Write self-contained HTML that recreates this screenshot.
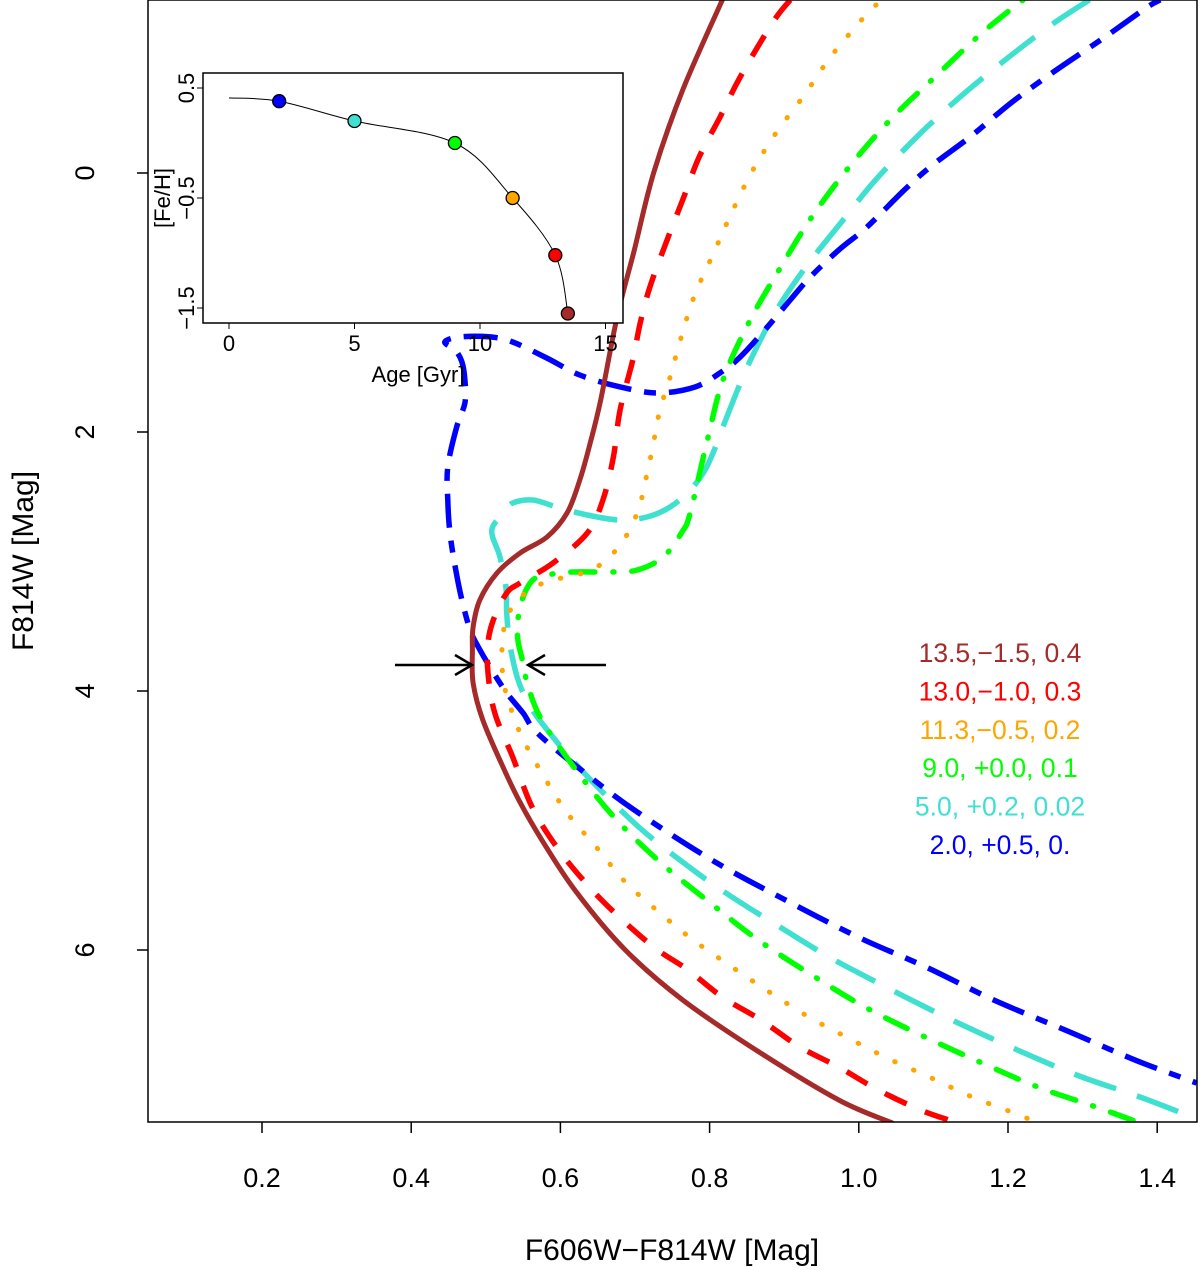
<!DOCTYPE html>
<html><head><meta charset="utf-8"><style>
html,body{margin:0;padding:0;background:#fff}
svg{display:block;font-family:"Liberation Sans",Arial,sans-serif}
</style></head><body>
<svg id="chart" width="1200" height="1270" viewBox="0 0 1200 1270">
<defs><clipPath id="plotclip"><rect x="148" y="0" width="1049" height="1122"/></clipPath></defs>
<g id="curves" clip-path="url(#plotclip)"></g>
<g id="axes"></g>
<g id="inset"></g>
</svg>
<script>
// Main plot data (colour F606W-F814W, magnitude F814W)
const xTicks = [0.2,0.4,0.6,0.8,1.0,1.2,1.4];
const xTickLabels = ["0.2","0.4","0.6","0.8","1.0","1.2","1.4"];
const yTicks = [0,2,4,6];
const yTickLabels = ["0","2","4","6"];

const brownC = [0.817,0.764,0.725,0.699,0.676,0.654,0.640,0.626,0.609,0.582,0.546,0.515,0.492,0.483,0.482,0.483,0.496,0.523,0.545,0.575,0.621,0.687,0.764,0.862,0.973,1.045];
const brownM = [-1.336,-0.641,0,0.595,1.112,1.753,2.085,2.371,2.625,2.811,2.934,3.089,3.297,3.506,3.683,3.938,4.224,4.587,4.85,5.15,5.55,6.0,6.386,6.772,7.158,7.336];

const redC = [0.908,0.885,0.841,0.814,0.786,0.764,0.743,0.720,0.707,0.697,0.680,0.671,0.657,0.636,0.590,0.546,0.528,0.510,0.503,0.503,0.512,0.536,0.562,0.595,0.634,0.673,0.725,0.771,0.817,0.869,0.921,0.973,1.026,1.083,1.129];
const redM = [-1.336,-1.166,-0.741,-0.432,-0.124,0.208,0.517,0.880,1.158,1.444,1.830,2.193,2.525,2.780,3.012,3.166,3.243,3.452,3.629,3.861,4.170,4.510,4.896,5.205,5.483,5.714,5.977,6.154,6.363,6.541,6.749,6.904,7.081,7.236,7.328];

const orangeC = [1.023,1.000,0.961,0.927,0.890,0.858,0.830,0.806,0.780,0.762,0.746,0.736,0.729,0.724,0.717,0.711,0.703,0.689,0.671,0.649,0.622,0.590,0.563,0.539,0.526,0.522,0.522,0.526,0.546,0.575,0.608,0.648,0.687,0.732,0.778,0.830,0.882,0.933,0.986,1.038,1.097,1.152,1.208,1.238];
const orangeM = [-1.297,-1.158,-0.888,-0.602,-0.317,-0.023,0.301,0.610,0.942,1.266,1.598,1.776,1.946,2.116,2.293,2.463,2.625,2.795,2.934,3.042,3.104,3.143,3.205,3.321,3.475,3.645,3.822,3.992,4.324,4.633,4.934,5.205,5.475,5.707,5.923,6.131,6.332,6.517,6.680,6.834,6.988,7.135,7.259,7.328];

const greenC = [1.220,1.165,1.102,1.042,0.987,0.937,0.893,0.853,0.818,0.797,0.774,0.763,0.738,0.703,0.666,0.617,0.582,0.563,0.550,0.543,0.543,0.549,0.557,0.575,0.621,0.673,0.735,0.801,0.865,0.937,1.008,1.083,1.162,1.240,1.318,1.370];
const greenM = [-1.336,-1.081,-0.741,-0.409,-0.046,0.340,0.749,1.151,1.598,2.062,2.625,2.772,2.965,3.066,3.081,3.081,3.104,3.143,3.274,3.452,3.606,3.761,3.969,4.224,4.610,4.981,5.328,5.637,5.923,6.193,6.440,6.656,6.865,7.058,7.212,7.321];

const cyanC = [1.309,1.254,1.171,1.097,1.026,0.979,0.929,0.890,0.853,0.823,0.810,0.794,0.774,0.747,0.716,0.680,0.636,0.595,0.563,0.536,0.526,0.508,0.519,0.527,0.528,0.532,0.542,0.555,0.575,0.628,0.705,0.778,0.830,0.894,0.960,1.026,1.097,1.162,1.234,1.299,1.377,1.453];
const cyanM = [-1.336,-1.127,-0.757,-0.386,0.031,0.363,0.726,1.058,1.467,1.884,2.085,2.293,2.448,2.579,2.656,2.680,2.641,2.579,2.525,2.548,2.618,2.757,2.965,3.197,3.398,3.629,3.892,4.070,4.247,4.610,5.050,5.382,5.591,5.822,6.054,6.255,6.463,6.641,6.826,6.981,7.135,7.305];

const blueC = [1.404,1.385,1.330,1.259,1.204,1.149,1.099,1.061,1.011,0.973,0.935,0.908,0.874,0.841,0.814,0.780,0.731,0.681,0.626,0.582,0.536,0.506,0.465,0.445,0.459,0.468,0.472,0.472,0.461,0.449,0.449,0.452,0.459,0.468,0.479,0.490,0.508,0.528,0.550,0.569,0.628,0.699,0.803,0.894,0.999,1.090,1.181,1.286,1.370,1.453];
const blueM = [-1.336,-1.274,-1.050,-0.772,-0.541,-0.278,-0.062,0.131,0.417,0.595,0.803,0.981,1.212,1.421,1.544,1.653,1.699,1.653,1.560,1.429,1.305,1.266,1.266,1.305,1.367,1.459,1.598,1.776,1.961,2.270,2.525,2.780,3.042,3.297,3.529,3.660,3.838,4.015,4.170,4.324,4.610,4.919,5.305,5.591,5.900,6.131,6.386,6.641,6.849,7.027];

const legendLabels = ["13.5,\u22121.5, 0.4","13.0,\u22121.0, 0.3","11.3,\u22120.5, 0.2","9.0, +0.0, 0.1","5.0, +0.2, 0.02","2.0, +0.5, 0."];

// Inset data
const insetAge = [2,5,9,11.3,13,13.5];
const insetFeH = [0.38,0.2,0.0,-0.5,-1.02,-1.55];
const insetCurveAge = [0,2,5,9,11.3,13,13.5];
const insetCurveFeH = [0.41,0.38,0.2,0.0,-0.5,-1.02,-1.55];
const insetXTicks = [0,5,10,15];
const insetYTicks = [0.5,-0.5,-1.5];
const insetYTickLabels = ["0.5","\u22120.5","\u22121.5"];

const NS="http://www.w3.org/2000/svg";
function mk(tag,attrs,parent){const e=document.createElementNS(NS,tag);for(const k in attrs)e.setAttribute(k,attrs[k]);parent.appendChild(e);return e;}
const X = c => 262 + (c-0.2)*746;
const Y = m => 173 + m*129.5;
function smoothPath(pts){
  let d="M"+pts[0][0].toFixed(1)+","+pts[0][1].toFixed(1);
  for(let i=0;i<pts.length-1;i++){
    const p0=pts[i-1]||pts[i],p1=pts[i],p2=pts[i+1],p3=pts[i+2]||p2;
    const c1=[p1[0]+(p2[0]-p0[0])/6,p1[1]+(p2[1]-p0[1])/6];
    const c2=[p2[0]-(p3[0]-p1[0])/6,p2[1]-(p3[1]-p1[1])/6];
    d+="C"+c1[0].toFixed(1)+","+c1[1].toFixed(1)+" "+c2[0].toFixed(1)+","+c2[1].toFixed(1)+" "+p2[0].toFixed(1)+","+p2[1].toFixed(1);
  }
  return d;
}
const curves=document.getElementById('curves');
const series=[
  {c:cyanC,m:cyanM,col:"#40E0D0",dash:"44 22",w:5.5,cap:"butt",name:"isochrone-5gyr"},
  {c:blueC,m:blueM,col:"#0000FF",dash:"12 13 34 13",w:5.5,cap:"butt",name:"isochrone-2gyr"},
  {c:greenC,m:greenM,col:"#00FF00",dash:"1 18 24 18",w:5.5,cap:"round",name:"isochrone-9gyr"},
  {c:orangeC,m:orangeM,col:"#FFA500",dash:"0.5 20",w:5,cap:"round",name:"isochrone-11p3gyr"},
  {c:redC,m:redM,col:"#FF0000",dash:"24 20",w:5.5,cap:"butt",name:"isochrone-13gyr"},
  {c:brownC,m:brownM,col:"#A52A2A",dash:"none",w:5,cap:"round",name:"isochrone-13p5gyr"}
];
series.forEach(s=>{
  const pts=s.c.map((v,i)=>[X(v),Y(s.m[i])]);
  const p=mk('path',{d:smoothPath(pts),fill:"none",stroke:s.col,"stroke-width":s.w,"stroke-dasharray":s.dash,"stroke-linecap":s.cap,"stroke-linejoin":"round"},curves);
  
  
});

// Axes
const axes=document.getElementById('axes');
let fr=mk('rect',{x:148,y:0,width:1049,height:1122,fill:"none",stroke:"#000","stroke-width":1.5},axes);


xTicks.forEach((t,i)=>{
  mk('line',{x1:X(t),x2:X(t),y1:1122,y2:1133,stroke:"#000","stroke-width":1.5},axes);
  const tx=mk('text',{x:X(t),y:1187,"font-size":27,"text-anchor":"middle"},axes);
  tx.textContent=xTickLabels[i];
  
  
});
yTicks.forEach((t,i)=>{
  mk('line',{x1:137,x2:148,y1:Y(t),y2:Y(t),stroke:"#000","stroke-width":1.5},axes);
  const tx=mk('text',{x:0,y:0,"font-size":27,"text-anchor":"middle",transform:`translate(94,${Y(t)}) rotate(-90)`},axes);
  tx.textContent=yTickLabels[i];
  
  
});
let xt=mk('text',{x:672,y:1260,"font-size":30,"text-anchor":"middle"},axes);
xt.textContent="F606W\u2212F814W [Mag]";


let yt=mk('text',{x:0,y:0,"font-size":30,"text-anchor":"middle",transform:"translate(33,561) rotate(-90)"},axes);
yt.textContent="F814W [Mag]";



// Legend
const legCols=["#A52A2A","#FF0000","#FFA500","#00FF00","#40E0D0","#0000FF"];
legendLabels.forEach((l,i)=>{
  const t=mk('text',{x:1000,y:662+i*38.4,"font-size":26.5,"text-anchor":"middle",fill:legCols[i]},axes);
  t.textContent=l;
  
  
});

// Arrows
function arrow(x1,x2,y,name){
  const g=mk('g',{stroke:"#000","stroke-width":2.5,fill:"none"},axes);
  
  
  mk('line',{x1:x1,x2:x2,y1:y,y2:y},g);
  const dir=x2>x1?-1:1;
  mk('polyline',{points:`${x2+dir*17},${y-10} ${x2},${y} ${x2+dir*17},${y+10}`},g);
}
arrow(395,472,665,'turnoff-arrow-left');
arrow(606,528,665,'turnoff-arrow-right');

// Inset
const inset=document.getElementById('inset');
const IX=a=>229+a*25.1, IY=f=>88+(0.5-f)*110;
mk('rect',{x:203,y:73,width:420,height:250,fill:"#fff",stroke:"#000","stroke-width":1.5},inset);
const cp=mk('path',{d:smoothPath(insetCurveAge.map((a,i)=>[IX(a),IY(insetCurveFeH[i])])),fill:"none",stroke:"#000","stroke-width":1},inset);


const ptCols=["#0000FF","#40E0D0","#00FF00","#FFA500","#FF0000","#A52A2A"];
insetAge.forEach((a,i)=>{
  const c=mk('circle',{cx:IX(a),cy:IY(insetFeH[i]),r:6.5,fill:ptCols[i],stroke:"#000","stroke-width":1.3},inset);
  
  
});
insetXTicks.forEach(t=>{
  mk('line',{x1:IX(t),x2:IX(t),y1:323,y2:329,stroke:"#000","stroke-width":1},inset);
  const tx=mk('text',{x:IX(t),y:351,"font-size":22,"text-anchor":"middle"},inset);
  tx.textContent=String(t);
  
  
});
insetYTicks.forEach((t,i)=>{
  mk('line',{x1:197,x2:203,y1:IY(t),y2:IY(t),stroke:"#000","stroke-width":1},inset);
  const tx=mk('text',{x:0,y:0,"font-size":22,"text-anchor":"middle",transform:`translate(194,${IY(t)}) rotate(-90)`},inset);
  tx.textContent=insetYTickLabels[i];
  
  
});
let ixt=mk('text',{x:418,y:382,"font-size":22,"text-anchor":"middle"},inset);
ixt.textContent="Age [Gyr]";


let iyt=mk('text',{x:0,y:0,"font-size":22,"text-anchor":"middle",transform:"translate(170,198) rotate(-90)"},inset);
iyt.textContent="[Fe/H]";


</script>
</body></html>
